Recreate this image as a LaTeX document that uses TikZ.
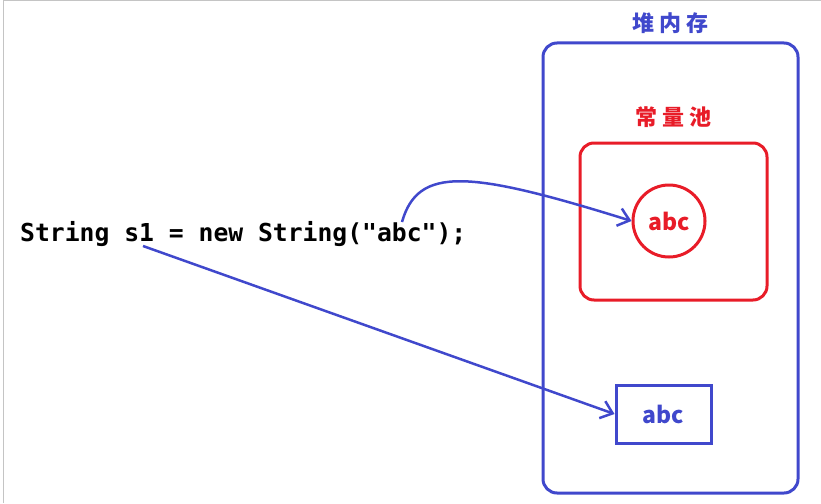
\documentclass[tikz,border=0pt]{standalone}
\usepackage{fontspec}
\setmainfont{Noto Sans CJK SC}
\setmonofont{DejaVu Sans Mono}
\newfontfamily\cjk[LetterSpace=22]{Noto Sans CJK SC}
\usetikzlibrary{positioning,arrows.meta}
\definecolor{heapblue}{RGB}{64,72,204}
\definecolor{poolred}{RGB}{232,28,40}
\definecolor{framegray}{RGB}{196,196,196}
\begin{document}
\begin{tikzpicture}[
        x=1pt, y=-1pt,
        every node/.style={align=center, inner sep=0pt},
        heapbox/.style={rectangle, rounded corners=14pt, draw=heapblue, line width=3pt, minimum width=255pt, minimum height=450pt},
        poolbox/.style={rectangle, rounded corners=14pt, draw=poolred, line width=3pt, minimum width=187pt, minimum height=157pt},
        title/.style={font=\cjk\bfseries\fontsize{22}{25}\selectfont},
        lit/.style={circle, draw=poolred, line width=3pt, minimum size=72pt, text=poolred, font=\bfseries\fontsize{23}{26}\selectfont},
        objbox/.style={rectangle, draw=heapblue, line width=3pt, minimum width=95pt, minimum height=58pt, text=heapblue, font=\bfseries\fontsize{23}{26}\selectfont},
        arrow/.style={-{Straight Barb[length=11pt,width=18pt,line width=2.5pt]}, draw=heapblue, line width=2.5pt}
    ]
    \useasboundingbox (0,0) rectangle (821,503);
    % Frame
    \draw[framegray, line width=1.5pt] (3.5,503) -- (3.5,0.75) -- (821,0.75);
    % Nodes
    \node[heapbox] (heap) at (670.5,268) {};
    \node[title, text=heapblue, above=8pt of heap.north] (heaplabel) {堆内存};
    \node[poolbox] (pool) at (673.5,221.5) {};
    \node[title, text=poolred, above=14pt of pool.north] (poollabel) {常量池};
    \node[lit] (abc) at (669,221) {abc};
    \node[objbox] (obj) at (663.5,414) {abc};
    \node[anchor=west, font=\ttfamily\bfseries\fontsize{24.7}{28}\selectfont] (code) at (20,234) {String s1 = new String("abc");};
    \coordinate (s1) at (143,246);
    \coordinate (quote) at (402,222);
    % Arrows
    \draw[arrow] (quote) .. controls (418,166) and (468,170) .. (abc.west);
    \draw[arrow] (s1) -- (obj.west);
\end{tikzpicture}
\end{document}
